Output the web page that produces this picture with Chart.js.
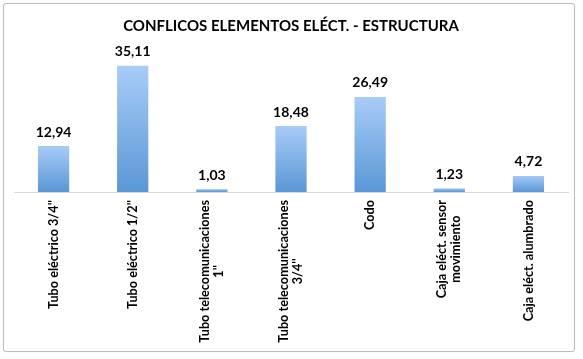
<!DOCTYPE html>
<html>
<head>
<meta charset="utf-8">
<script src="https://cdn.jsdelivr.net/npm/chart.js@4/dist/chart.umd.min.js"></script>
<style>
  html, body { margin: 0; padding: 0; background: #fff; }
  #box { position: absolute; left: 3px; top: 3px; width: 570px; height: 347px;
         border: 1px solid #bdbdbd; border-radius: 3px; box-shadow: 0 0 1px #cfcfcf; }
</style>
</head>
<body>
<div id="box"><canvas id="c"></canvas></div>
<script>
// categories (rotated labels, split in lines like the original)
var categories = [
  ["Tubo eléctrico 3/4''"],
  ["Tubo eléctrico 1/2''"],
  ["Tubo telecomunicaciones", "1''"],
  ["Tubo telecomunicaciones", "3/4''"],
  ["Codo"],
  ["Caja eléct. sensor", "movimiento"],
  ["Caja eléct. alumbrado"]
];
var values = [12.94, 35.11, 1.03, 18.48, 26.49, 1.23, 4.72];
var chartTitle = "CONFLICOS ELEMENTOS ELÉCT. - ESTRUCTURA";

var fontFam = "Lato, 'Open Sans', sans-serif";

function fmt(v) { return v.toFixed(2).replace(".", ","); }

// gradient per bar, light at top, darker at base
function barFill(ctx) {
  var chart = ctx.chart;
  if (!chart.chartArea || ctx.type !== "data") return "#7eb1e8";
  var y = chart.scales.y;
  var top = y.getPixelForValue(values[ctx.dataIndex]);
  var base = y.getPixelForValue(0);
  if (base - top < 1) return "#7eb1e8";
  var g = chart.ctx.createLinearGradient(0, top, 0, base);
  g.addColorStop(0, "#a9cdf8");
  g.addColorStop(1, "#5a97d6");
  return g;
}

var valueLabels = {
  id: "valueLabels",
  afterDatasetsDraw: function(chart) {
    var c = chart.ctx;
    var meta = chart.getDatasetMeta(0);
    c.save();
    c.font = "bold 14px " + fontFam;
    c.fillStyle = "#000";
    c.textAlign = "center";
    c.textBaseline = "bottom";
    meta.data.forEach(function(bar, i) {
      c.fillText(fmt(values[i]), bar.x, bar.y - 6);
    });
    c.restore();
  }
};

// rotated tick labels, lines centred inside the block like Excel does
var tickLabels = {
  id: "tickLabels",
  afterDraw: function(chart) {
    var c = chart.ctx;
    var xs = chart.scales.x;
    var lh = 14;
    c.save();
    c.font = "bold 12.7px " + fontFam;
    c.fillStyle = "#000";
    c.textBaseline = "middle";
    c.textAlign = "center";
    categories.forEach(function(lines, i) {
      var px = xs.getPixelForTick(i);
      var w = 0;
      lines.forEach(function(l) { w = Math.max(w, c.measureText(l).width); });
      var startY = xs.top + 8;
      c.save();
      c.translate(px, startY + w / 2);
      c.rotate(-Math.PI / 2);
      lines.forEach(function(l, k) {
        var off = (k - (lines.length - 1) / 2) * lh;
        c.fillText(l, 0, off);
      });
      c.restore();
    });
    c.restore();
  }
};

new Chart(document.getElementById("c"), {
  type: "bar",
  data: {
    labels: categories,
    datasets: [{
      data: values,
      backgroundColor: barFill,
      borderColor: "rgba(255,255,255,0.35)",
      borderWidth: 1,
      barPercentage: 0.42,
      categoryPercentage: 1
    }]
  },
  options: {
    responsive: true,
    maintainAspectRatio: false,
    animation: false,
    layout: { padding: { left: 10, right: 6, top: 4, bottom: 0 } },
    plugins: {
      legend: { display: false },
      tooltip: { enabled: false },
      title: {
        display: true,
        text: chartTitle,
        color: "#000",
        font: { family: fontFam, size: 15, weight: "bold" },
        padding: { top: 9, bottom: 12 }
      }
    },
    scales: {
      y: { display: false, min: 0, max: 40 },
      x: {
        grid: { display: false },
        border: { display: true, color: "#d9d9d9", width: 1 },
        afterFit: function(scale) { scale.height = 159; },
        ticks: {
          color: "rgba(0,0,0,0)",
          font: { family: fontFam, size: 12, weight: "bold" },
          minRotation: 90, maxRotation: 90, padding: 8
        }
      }
    }
  },
  plugins: [valueLabels, tickLabels]
});
</script>
</body>
</html>
